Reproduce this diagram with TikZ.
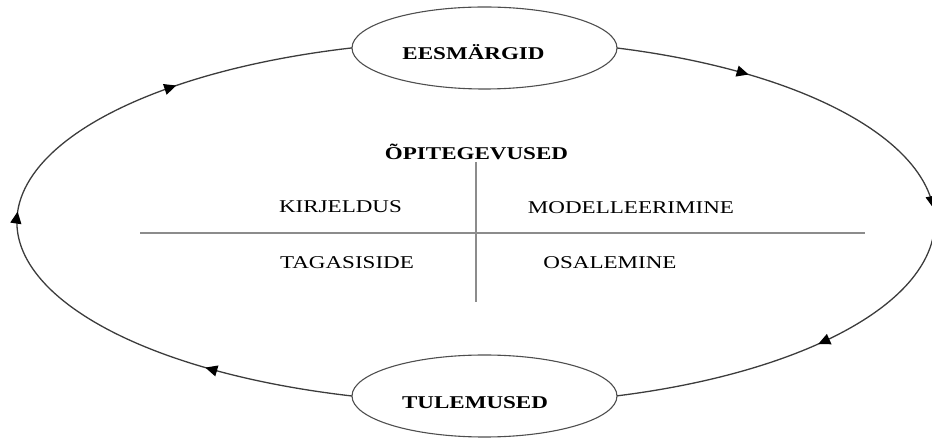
\documentclass[tikz,border=0pt]{standalone}
\usepackage{fontspec}
\setmainfont[FakeStretch=1.28]{Liberation Serif}
\usetikzlibrary{arrows.meta, decorations.markings, shapes.geometric}

\definecolor{loopgray}{HTML}{3C3C3C}
\definecolor{ringgray}{HTML}{4E4E4E}
\definecolor{crossgray}{HTML}{8C8C8C}

\tikzset{
  bubble/.style={ellipse, draw=ringgray, line width=1.1pt,
    minimum width=265pt, minimum height=82pt, inner sep=0pt, outer sep=0pt},
  cycleline/.style={draw=loopgray, line width=1.3pt},
  crossline/.style={draw=crossgray, line width=2pt},
  caption/.style={anchor=base, inner sep=0pt, text=black,
    font=\fontsize{18}{20}\selectfont},
  title/.style={caption, font=\fontsize{18}{20}\selectfont\bfseries},
  tip/.tip={Triangle[length=12pt, width=11pt, color=black]},
  threetips/.style n args={3}{postaction={decorate, decoration={markings,
    mark=at position #1 with {\arrow{tip}},
    mark=at position #2 with {\arrow{tip}},
    mark=at position #3 with {\arrow{tip}}}}}
}

\begin{document}
\begin{tikzpicture}[x=1pt, y=1pt]
  \useasboundingbox (0,0) rectangle (932,439);

  % goals and results
  \node[bubble] (e) at (484.5,391) {};
  \node[bubble] (t) at (484.5,43) {};
  \node[title] (eText) at (473.5,379) {EESMÄRGID};
  \node[title] (tText) at (475,30) {TULEMUSED};

  % the cycle: goals -> results on the right, results -> goals on the left
  \path[cycleline, threetips={0.174}{0.482}{0.730}]
    (e.east) arc[start angle=72.88, end angle=-72.88,
                 x radius=450pt, y radius=182pt];
  \path[cycleline, threetips={0.186}{0.513}{0.776}]
    (t.west) arc[start angle=253.54, end angle=106.46,
                 x radius=467.5pt, y radius=181.5pt];

  % learning activities
  \node[title] (head) at (476.5,279) {ÕPITEGEVUSED};
  \coordinate (hl) at (140,206);
  \coordinate (hr) at (865,206);
  \coordinate (vt) at (476,277);
  \coordinate (vb) at (476,137);
  \draw[crossline] (hl) -- (hr);
  \draw[crossline] (vt) -- (vb);

  \node[caption] (kir) at (340.5,226.3) {KIRJELDUS};
  \node[caption] (mod) at (631,225.7) {MODELLEERIMINE};
  \node[caption] (tag) at (347,170.7) {TAGASISIDE};
  \node[caption] (osa) at (610,170.7) {OSALEMINE};
\end{tikzpicture}
\end{document}
